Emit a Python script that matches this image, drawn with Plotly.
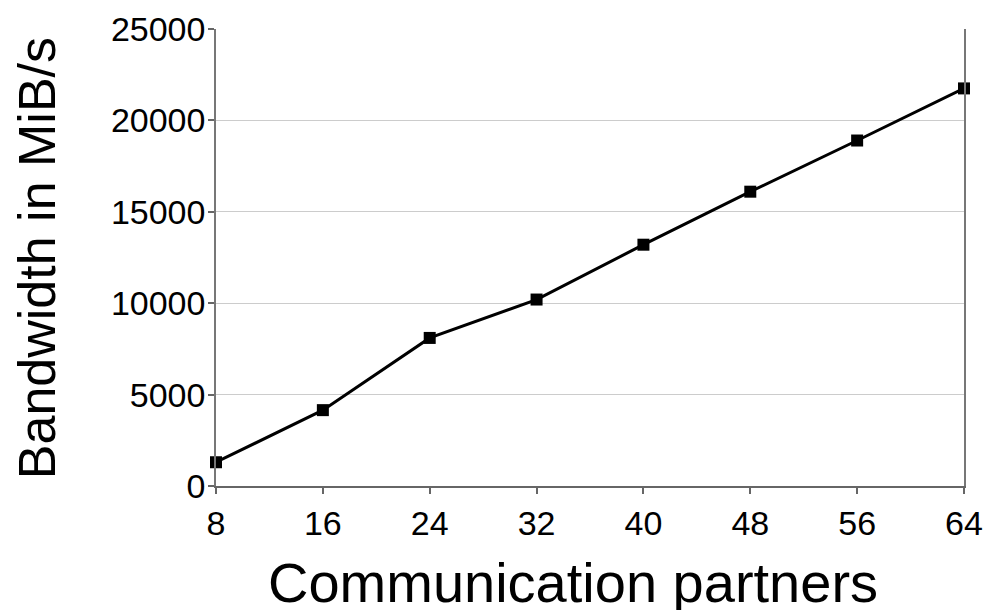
import plotly.graph_objects as go

partners = [8, 16, 24, 32, 40, 48, 56, 64]
bandwidth = [1300, 4150, 8100, 10200, 13200, 16100, 18900, 21750]
x_ticks = [8, 16, 24, 32, 40, 48, 56, 64]
y_ticks = [0, 5000, 10000, 15000, 20000, 25000]

fig = go.Figure()
fig.add_trace(go.Scatter(
    x=partners, y=bandwidth, mode="lines+markers",
    line=dict(color="black", width=3),
    marker=dict(symbol="square", size=12, color="black"),
    cliponaxis=False, showlegend=False,
))

font = "Liberation Sans, Arial, sans-serif"
fig.update_layout(
    width=988, height=610,
    margin=dict(l=216, r=24, t=29, b=124),
    paper_bgcolor="white", plot_bgcolor="white",
    font=dict(family=font, color="black"),
    xaxis=dict(
        range=[8, 64], tickvals=x_ticks, ticktext=[str(v) for v in x_ticks],
        showgrid=False, zeroline=False, automargin=False,
        showline=True, linecolor="#666666", linewidth=1.5,
        ticks="outside", ticklen=6, tickcolor="#666666", tickwidth=1.5,
        tickfont=dict(size=34, family=font, color="black"),
    ),
    yaxis=dict(
        range=[0, 25000], tickvals=y_ticks, ticktext=[str(v) for v in y_ticks],
        showgrid=True, gridcolor="#cccccc", gridwidth=1, zeroline=False, automargin=False,
        showline=True, linecolor="#777777", linewidth=1.5, mirror=True,
        ticks="outside", ticklen=6, tickcolor="#666666", tickwidth=1.5,
        ticklabelstandoff=-4,
        tickfont=dict(size=34, family=font, color="black"),
    ),
    annotations=[
        dict(text="Bandwidth in MiB/s", textangle=-90, xref="paper", yref="paper",
             x=-0.239, y=0.499, xanchor="center", yanchor="middle", showarrow=False,
             font=dict(size=52, family=font, color="black")),
        dict(text="Communication partners", xref="paper", yref="paper",
             x=0.477, y=-0.212, xanchor="center", yanchor="middle", showarrow=False,
             font=dict(size=56, family=font, color="black")),
    ],
)

fig.write_html("out.html", config={"displayModeBar": False},
               post_script="document.body.style.margin='0';document.body.style.overflow='hidden';")
